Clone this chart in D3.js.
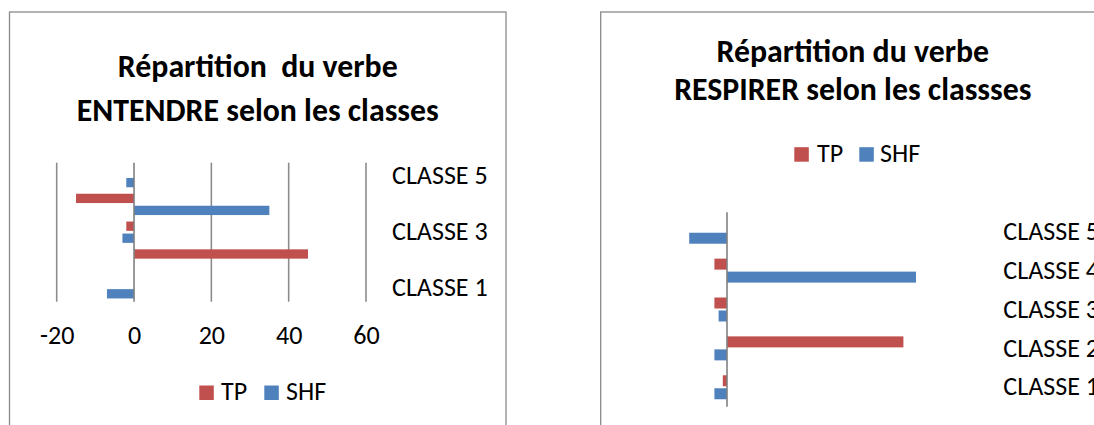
<!DOCTYPE html>
<html>
<head>
<meta charset="utf-8">
<script src="https://cdn.jsdelivr.net/npm/d3@7"></script>
<style>
  html, body { margin: 0; padding: 0; background: #fff; }
  svg { display: block; }
  text { font-family: Carlito, Calibri, Lato, "Open Sans", sans-serif; fill: #000; }
</style>
</head>
<body>
<svg id="chart" width="1094" height="425"></svg>
<script>
// ---- data ----
const categories = ["CLASSE 1", "CLASSE 2", "CLASSE 3", "CLASSE 4", "CLASSE 5"];
const seriesNames = ["TP", "SHF"];
const entendreTP  = [0, 45, -2, -15, 0];
const entendreSHF = [-7, 0, -3, 35, -2];
const respirerTP  = [-1, 42, -3, -3, 0];
const respirerSHF = [-3, -3, -2, 45, -9];
const xTickValues = [-20, 0, 20, 40, 60];
const xTickLabels = ["-20", "0", "20", "40", "60"];
const leftShownCategories = ["CLASSE 1", "CLASSE 3", "CLASSE 5"];
const titleEntendre = ["Répartition  du verbe", "ENTENDRE selon les classes"];
const titleRespirer = ["Répartition du verbe", "RESPIRER selon les classses"];

const colors = { TP: "#C0504D", SHF: "#4F81BD" };
const svg = d3.select("#chart");
svg.append("rect").attr("width", 1094).attr("height", 425).attr("fill", "#fff");

// font fitting helpers
function measure(str, size, weight) {
  const t = svg.append("text").attr("font-size", size).attr("font-weight", weight)
    .style("white-space", "pre").text(str);
  const w = t.node().getComputedTextLength();
  t.remove();
  return w;
}
const labelSize = 24 * 95.7 / measure("CLASSE 5", 24, "normal");
const titleSize = 26 * 362 / measure("ENTENDRE selon les classes", 26, "bold");

function buildRows(tp, shf) {
  return categories.map((c, i) => ({ cat: c, TP: tp[i], SHF: shf[i] }));
}

function drawPanel(cfg) {
  const g = svg.append("g");
  // frame
  g.append("rect").attr("x", cfg.frame[0]).attr("y", cfg.frame[1])
    .attr("width", cfg.frame[2]).attr("height", cfg.frame[3])
    .attr("fill", "none").attr("stroke", "#8a8a8a").attr("stroke-width", 1.3);

  // title
  cfg.title.forEach((line, i) => {
    g.append("text").attr("x", cfg.cx).attr("y", cfg.titleY[i])
      .attr("text-anchor", "middle").attr("font-weight", "bold")
      .attr("font-size", titleSize).style("white-space", "pre").text(line);
  });

  const x = d3.scaleLinear().domain([-20, 60]).range(cfg.xRange);
  const y0 = d3.scaleBand().domain(categories.slice().reverse()).range(cfg.yRange);
  const y1 = d3.scaleBand().domain(seriesNames).range([0, y0.bandwidth()])
    .paddingInner(cfg.padIn).paddingOuter(cfg.padOut);

  // gridlines
  if (cfg.grid) {
    g.append("g").selectAll("line").data(xTickValues.filter(v => v !== 0)).join("line")
      .attr("x1", d => x(d)).attr("x2", d => x(d))
      .attr("y1", cfg.yRange[0]).attr("y2", cfg.yRange[1])
      .attr("stroke", "#8c8c8c").attr("stroke-width", 1.6);
  }

  const rows = buildRows(cfg.tp, cfg.shf);
  const groups = g.append("g").selectAll("g").data(rows).join("g")
    .attr("transform", d => `translate(0,${y0(d.cat)})`);
  groups.selectAll("rect").data(d => seriesNames.map(s => ({ s, v: d[s] }))).join("rect")
    .attr("x", d => x(Math.min(0, d.v)))
    .attr("width", d => Math.abs(x(d.v) - x(0)))
    .attr("y", d => y1(d.s)).attr("height", y1.bandwidth())
    .attr("fill", d => colors[d.s]);

  // zero axis
  g.append("line").attr("x1", x(0)).attr("x2", x(0))
    .attr("y1", cfg.yRange[0]).attr("y2", cfg.yRange[1])
    .attr("stroke", "#808080").attr("stroke-width", 1.6);

  // tick labels
  if (cfg.tickY) {
    const axis = d3.axisBottom(x).tickValues(xTickValues)
      .tickFormat((d, i) => xTickLabels[i]).tickSize(0).tickPadding(0);
    const ax = g.append("g").attr("transform", `translate(0,${cfg.tickY})`).call(axis);
    ax.select(".domain").remove();
    ax.selectAll("text").attr("font-size", labelSize).attr("dy", 0)
      .attr("font-family", null).attr("fill", "#000");
    ax.attr("font-family", null).attr("font-size", null);
  }

  // category labels
  g.append("g").selectAll("text").data(cfg.shownCats).join("text")
    .attr("x", cfg.labelX).attr("y", d => y0(d) + y0.bandwidth() / 2 + cfg.labelDy)
    .attr("font-size", labelSize).text(d => d);

  // legend
  const lg = g.append("g");
  seriesNames.forEach((s, i) => {
    lg.append("rect").attr("x", cfg.legend.sq[i]).attr("y", cfg.legend.y - 14.5)
      .attr("width", 14.5).attr("height", 14.5).attr("fill", colors[s]);
    lg.append("text").attr("x", cfg.legend.tx[i]).attr("y", cfg.legend.y)
      .attr("font-size", labelSize).text(s);
  });
}

drawPanel({
  frame: [9.5, 12, 496.5, 430], cx: 257.8, title: titleEntendre, titleY: [77.3, 120.5],
  xRange: [56.7, 366], yRange: [162.7, 301.7], padIn: 0.225, padOut: 0.27, grid: true,
  tp: entendreTP, shf: entendreSHF, tickY: 344, shownCats: leftShownCategories,
  labelX: 392, labelDy: 7.8,
  legend: { y: 400, sq: [199.3, 264.3], tx: [221, 286] }
});

drawPanel({
  frame: [600.7, 12, 520, 430], cx: 852.8, title: titleRespirer, titleY: [61.7, 100],
  xRange: [643, 979], yRange: [212.3, 406.7], padIn: 0.154, padOut: 0.573, grid: false,
  tp: respirerTP, shf: respirerSHF, tickY: null, shownCats: categories,
  labelX: 1003.3, labelDy: 8.2,
  legend: { y: 161.7, sq: [794.3, 859.3], tx: [817, 880] }
});
</script>
</body>
</html>
